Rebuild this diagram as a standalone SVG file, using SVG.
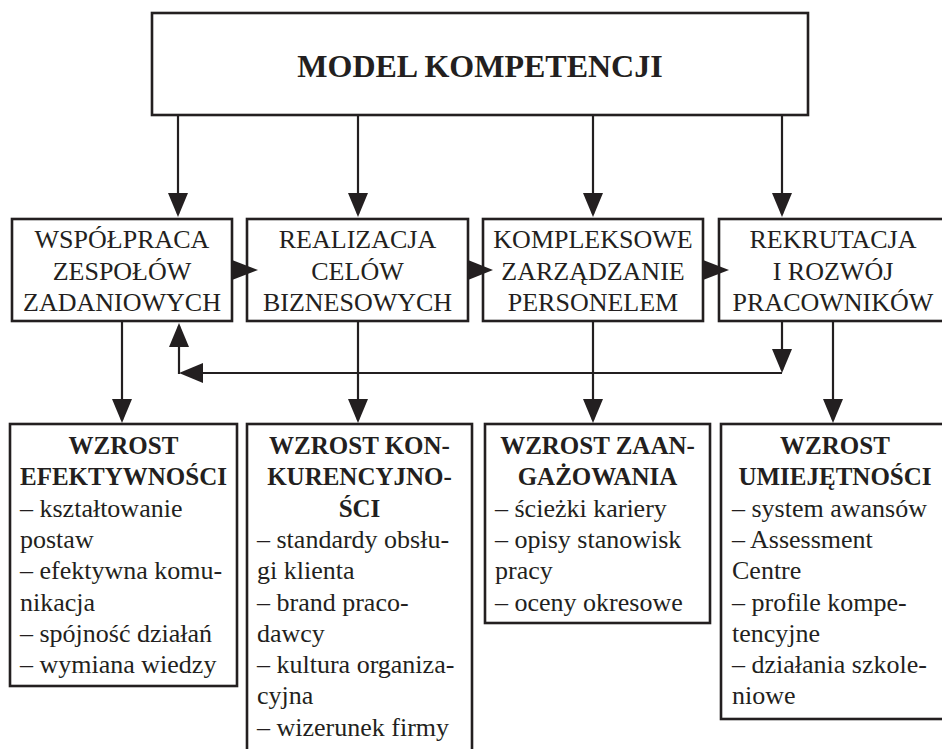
<svg xmlns="http://www.w3.org/2000/svg" width="942" height="749" viewBox="0 0 942 749">
<defs>
<style>
.box{fill:#fff;stroke:#231f20;stroke-width:2.6}
.ln{fill:none;stroke:#231f20;stroke-width:2.2}
.hd{fill:#231f20;stroke:none}
text{font-family:"Liberation Serif","Times New Roman",serif;fill:#231f20}
.t{font-size:32px;font-weight:bold;text-anchor:middle}
.m{font-size:26px;text-anchor:middle}
.b{font-size:25px;font-weight:bold;text-anchor:middle}
.r{font-size:26px}
</style>
<marker id="arr" viewBox="0 0 24 20" refX="21" refY="10" markerWidth="24" markerHeight="20" markerUnits="userSpaceOnUse" orient="auto">
<path d="M0,0 L24,10 L0,20 z" fill="#231f20"/>
</marker>
</defs>
<rect width="942" height="749" fill="#fff"/>

<g id="connectors">
<line class="ln" x1="178" y1="115" x2="178" y2="214" marker-end="url(#arr)"/>
<line class="ln" x1="358" y1="115" x2="358" y2="214" marker-end="url(#arr)"/>
<line class="ln" x1="593" y1="115" x2="593" y2="214" marker-end="url(#arr)"/>
<line class="ln" x1="782" y1="115" x2="782" y2="214" marker-end="url(#arr)"/>
<line class="ln" x1="122" y1="321" x2="122" y2="420" marker-end="url(#arr)"/>
<line class="ln" x1="358" y1="321" x2="358" y2="420" marker-end="url(#arr)"/>
<line class="ln" x1="593" y1="321" x2="593" y2="420" marker-end="url(#arr)"/>
<line class="ln" x1="833" y1="321" x2="833" y2="420" marker-end="url(#arr)"/>
<line class="ln" x1="782" y1="321" x2="782" y2="370" marker-end="url(#arr)"/>
<line class="ln" x1="782" y1="373" x2="182" y2="373" marker-end="url(#arr)"/>
<line class="ln" x1="179" y1="374" x2="179" y2="326" marker-end="url(#arr)"/>
</g>

<g id="n-model">
<rect class="box" x="152" y="13" width="656" height="102"/>
<text class="t" x="480" y="77">MODEL KOMPETENCJI</text>
</g>

<g id="n-wspolpraca">
<rect class="box" x="12" y="219" width="220" height="102"/>
<text class="m" x="122" y="248">WSPÓŁPRACA</text>
<text class="m" x="122" y="280">ZESPOŁÓW</text>
<text class="m" x="122" y="311">ZADANIOWYCH</text>
</g>
<g id="n-realizacja">
<rect class="box" x="247" y="219" width="221" height="102"/>
<text class="m" x="357.5" y="248">REALIZACJA</text>
<text class="m" x="357.5" y="280">CELÓW</text>
<text class="m" x="357.5" y="311">BIZNESOWYCH</text>
</g>
<g id="n-kompleksowe">
<rect class="box" x="483" y="219" width="220" height="102"/>
<text class="m" x="593" y="248">KOMPLEKSOWE</text>
<text class="m" x="593" y="280">ZARZĄDZANIE</text>
<text class="m" x="593" y="311">PERSONELEM</text>
</g>
<g id="n-rekrutacja">
<rect class="box" x="719" y="219" width="230" height="102"/>
<text class="m" x="833" y="248">REKRUTACJA</text>
<text class="m" x="833" y="280">I ROZWÓJ</text>
<text class="m" x="833" y="311">PRACOWNIKÓW</text>
</g>

<g id="heads">
<path class="hd" d="M232,260 L258,270 L232,280 z"/>
<path class="hd" d="M468,260 L493,270 L468,280 z"/>
<path class="hd" d="M703,260 L729,270 L703,280 z"/>
</g>

<g id="n-efektywnosc">
<rect class="box" x="10" y="424" width="227" height="262"/>
<text class="b" x="123.5" y="454">WZROST</text>
<text class="b" x="123.5" y="485.3">EFEKTYWNOŚCI</text>
<text class="r" x="20" y="516.6">– kształtowanie</text>
<text class="r" x="20" y="547.9">postaw</text>
<text class="r" x="20" y="579.2">– efektywna komu-</text>
<text class="r" x="20" y="610.5">nikacja</text>
<text class="r" x="20" y="641.8">– spójność działań</text>
<text class="r" x="20" y="673.1">– wymiana wiedzy</text>
</g>
<g id="n-konkurencyjnosc">
<rect class="box" x="247" y="424" width="225" height="340"/>
<text class="b" x="359.5" y="454">WZROST KON-</text>
<text class="b" x="359.5" y="485.3">KURENCYJNO-</text>
<text class="b" x="359.5" y="516.6">ŚCI</text>
<text class="r" x="257" y="547.9">– standardy obsłu-</text>
<text class="r" x="257" y="579.2">gi klienta</text>
<text class="r" x="257" y="610.5">– brand praco-</text>
<text class="r" x="257" y="641.8">dawcy</text>
<text class="r" x="257" y="673.1">– kultura organiza-</text>
<text class="r" x="257" y="704.4">cyjna</text>
<text class="r" x="257" y="735.7">– wizerunek firmy</text>
</g>
<g id="n-zaangazowanie">
<rect class="box" x="485" y="424" width="225" height="199"/>
<text class="b" x="597.5" y="454">WZROST ZAAN-</text>
<text class="b" x="597.5" y="485.3">GAŻOWANIA</text>
<text class="r" x="495" y="516.6">– ścieżki kariery</text>
<text class="r" x="495" y="547.9">– opisy stanowisk</text>
<text class="r" x="495" y="579.2">pracy</text>
<text class="r" x="495" y="610.5">– oceny okresowe</text>
</g>
<g id="n-umiejetnosci">
<rect class="box" x="721" y="424" width="228" height="295"/>
<text class="b" x="835" y="454">WZROST</text>
<text class="b" x="835" y="485.3">UMIEJĘTNOŚCI</text>
<text class="r" x="732" y="516.6">– system awansów</text>
<text class="r" x="732" y="547.9">– Assessment</text>
<text class="r" x="732" y="579.2">Centre</text>
<text class="r" x="732" y="610.5">– profile kompe-</text>
<text class="r" x="732" y="641.8">tencyjne</text>
<text class="r" x="732" y="673.1">– działania szkole-</text>
<text class="r" x="732" y="704.4">niowe</text>
</g>
</svg>
